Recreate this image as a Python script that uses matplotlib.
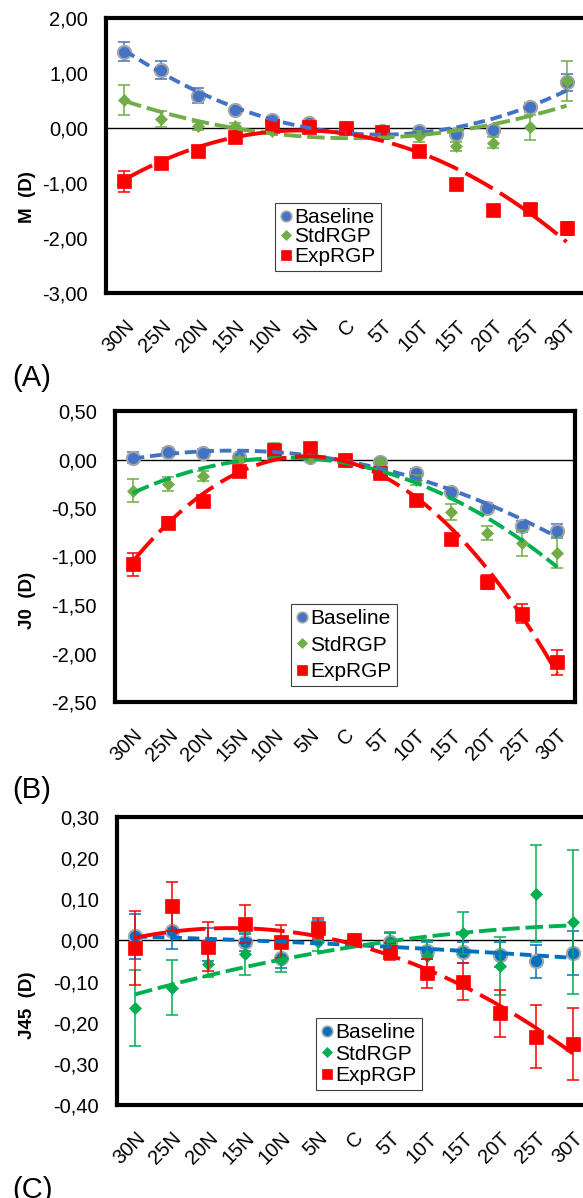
import matplotlib
matplotlib.use("Agg")
import matplotlib.pyplot as plt
from matplotlib.ticker import FuncFormatter
from matplotlib.lines import Line2D
import numpy as np

plt.rcParams['font.family'] = ['Liberation Sans', 'DejaVu Sans']

categories = ['30N', '25N', '20N', '15N', '10N', '5N', 'C', '5T', '10T', '15T', '20T', '25T', '30T']

# (A) M (D)
m_base = [1.39, 1.06, 0.59, 0.33, 0.15, 0.09, 0.00, -0.05, -0.06, -0.11, -0.03, 0.38, 0.83]
m_base_err = [0.17, 0.16, 0.14, 0.06, 0.05, 0.04, 0.03, 0.04, 0.05, 0.06, 0.06, 0.08, 0.15]
m_std = [0.51, 0.16, 0.04, 0.04, -0.05, 0.05, 0.00, -0.07, -0.15, -0.33, -0.27, 0.01, 0.86]
m_std_err = [0.27, 0.15, 0.07, 0.05, 0.05, 0.04, 0.03, 0.05, 0.10, 0.08, 0.10, 0.23, 0.36]
m_exp = [-0.97, -0.64, -0.41, -0.16, 0.04, 0.02, 0.00, -0.07, -0.42, -1.02, -1.49, -1.47, -1.82]
m_exp_err = [0.19, 0.08, 0.06, 0.05, 0.04, 0.04, 0.03, 0.05, 0.06, 0.06, 0.08, 0.08, 0.12]

# (B) J0 (D)
j0_base = [0.02, 0.08, 0.07, 0.03, 0.07, 0.03, 0.00, -0.03, -0.14, -0.33, -0.50, -0.69, -0.74]
j0_base_err = [0.06, 0.04, 0.04, 0.03, 0.03, 0.03, 0.02, 0.03, 0.04, 0.04, 0.05, 0.06, 0.07]
j0_std = [-0.32, -0.25, -0.17, 0.00, 0.12, 0.02, 0.00, -0.03, -0.21, -0.54, -0.76, -0.86, -0.96]
j0_std_err = [0.12, 0.07, 0.05, 0.03, 0.05, 0.03, 0.02, 0.04, 0.05, 0.08, 0.07, 0.13, 0.16]
j0_exp = [-1.08, -0.65, -0.43, -0.12, 0.10, 0.12, 0.00, -0.14, -0.42, -0.82, -1.26, -1.59, -2.09]
j0_exp_err = [0.12, 0.06, 0.04, 0.04, 0.04, 0.04, 0.03, 0.04, 0.04, 0.05, 0.07, 0.10, 0.13]

# (C) J45 (D)
j45_base = [0.010, 0.024, -0.010, -0.005, -0.042, 0.025, 0.000, -0.003, -0.025, -0.029, -0.035, -0.051, -0.031]
j45_base_err = [0.054, 0.045, 0.040, 0.020, 0.025, 0.025, 0.010, 0.020, 0.020, 0.025, 0.030, 0.040, 0.053]
j45_std = [-0.165, -0.115, -0.058, -0.033, -0.047, -0.005, 0.000, -0.010, -0.039, 0.018, -0.062, 0.113, 0.044]
j45_std_err = [0.092, 0.067, 0.030, 0.050, 0.030, 0.020, 0.010, 0.030, 0.040, 0.050, 0.070, 0.118, 0.175]
j45_exp = [-0.019, 0.083, -0.015, 0.040, -0.003, 0.030, 0.000, -0.027, -0.080, -0.101, -0.177, -0.234, -0.252]
j45_exp_err = [0.090, 0.060, 0.060, 0.047, 0.040, 0.025, 0.010, 0.020, 0.035, 0.045, 0.057, 0.077, 0.088]

H = 1198.0
W = 583.0
panels = [
    dict(label='(A)', ylabel='M  (D)', ylim=(-3.0, 2.0), step=1.0,
         pos=[106 / W, 1 - 293 / H, 479 / W, 275 / H],
         series=[(m_base, m_base_err), (m_std, m_std_err), (m_exp, m_exp_err)],
         colors=['#4472C4', '#70AD47', '#FF0000'], line_colors=['#4472C4', '#70AD47', '#FF0000'],
         legend_box=(272 / W, 1 - 272 / H, 112 / W, 70 / H), labelspacing=0.02,
         letter_y=1 - 378 / H, ylabel_y=1 - 197 / H),
    dict(label='(B)', ylabel='J0  (D)', ylim=(-2.5, 0.5), step=0.5,
         pos=[115 / W, 1 - 702 / H, 460 / W, 291 / H],
         series=[(j0_base, j0_base_err), (j0_std, j0_std_err), (j0_exp, j0_exp_err)],
         colors=['#4472C4', '#70AD47', '#FF0000'], line_colors=['#4472C4', '#00B050', '#FF0000'],
         legend_box=(277 / W, 1 - 689 / H, 134 / W, 88 / H), labelspacing=0.35,
         letter_y=1 - 790 / H, ylabel_y=1 - 600 / H),
    dict(label='(C)', ylabel='J45  (D)', ylim=(-0.4, 0.3), step=0.1,
         pos=[117 / W, 1 - 1105 / H, 474 / W, 288 / H],
         series=[(j45_base, j45_base_err), (j45_std, j45_std_err), (j45_exp, j45_exp_err)],
         colors=['#0070C0', '#00B050', '#FF0000'], line_colors=['#0070C0', '#00B050', '#FF0000'],
         legend_box=(305 / W, 1 - 1092 / H, 128 / W, 76 / H), labelspacing=0.12,
         letter_y=1 - 1190 / H, ylabel_y=1 - 1005 / H),
]

names = ['Baseline', 'StdRGP', 'ExpRGP']
markers = ['o', 'D', 's']
msizes = [9.5, 6.0, 9.5]
dash_styles = [(3, 1.5), (4.5, 1.5), (8, 2.2)]

fig = plt.figure(figsize=(5.83, 11.98), dpi=100)
x = np.arange(len(categories))
comma = FuncFormatter(lambda v, p: f"{round(v, 6) + 0.0:.2f}".replace('.', ','))

for p in panels:
    ax = fig.add_axes(p['pos'])
    ax.axhline(0, color='black', lw=1.0, zorder=1)
    for i, (vals, errs) in enumerate(p['series']):
        c = p['colors'][i]
        ax.errorbar(x, vals, yerr=errs, fmt='none', ecolor=c, elinewidth=1.1,
                    capsize=4, capthick=1.1, zorder=2 + i)
        ax.plot(x, vals, linestyle='none', marker=markers[i], ms=msizes[i],
                mfc=c, mec='#A5A5A5' if i == 0 else c, mew=1.5 if i == 0 else 0.5,
                zorder=2 + i)
    # polynomial (order 2) trend line over each series
    for i, (vals, errs) in enumerate(p['series']):
        coef = np.polyfit(x, vals, 2)
        xf = np.linspace(0, 12, 120)
        ln, = ax.plot(xf, np.polyval(coef, xf), color=p['line_colors'][i], lw=2.8,
                      solid_capstyle='butt', zorder=6 + i)
        ln.set_dashes(dash_styles[i])
    ax.set_xlim(-0.5, 12.5)
    ax.set_ylim(*p['ylim'])
    ax.set_yticks(np.arange(p['ylim'][0], p['ylim'][1] + p['step'] / 2, p['step']))
    ax.yaxis.set_major_formatter(comma)
    ax.set_xticks(x)
    ax.set_xticklabels(categories, rotation=45, ha='right', rotation_mode='anchor')
    ax.tick_params(axis='both', length=0, labelsize=14.5)
    ax.tick_params(axis='y', pad=13)
    ax.tick_params(axis='x', pad=17)
    for s in ax.spines.values():
        s.set_linewidth(3.0)
        s.set_color('black')
    fig.text(28 / W, p['ylabel_y'], p['ylabel'], rotation=90,
             fontsize=13.5, fontweight='bold', ha='center', va='center')
    fig.text(12 / W, p['letter_y'], p['label'], fontsize=21, ha='left', va='center')
    handles = [Line2D([], [], linestyle='none', marker=markers[i], ms=msizes[i] * 0.8,
                      mfc=p['colors'][i], mec='#A5A5A5' if i == 0 else p['colors'][i],
                      mew=1.2 if i == 0 else 0.5) for i in range(3)]
    leg = ax.legend(handles, names, loc='center', bbox_to_anchor=p['legend_box'],
                    bbox_transform=fig.transFigure, fontsize=15, frameon=True,
                    fancybox=False, edgecolor='#404040', framealpha=1,
                    handlelength=0.5, handletextpad=0.15, labelspacing=p['labelspacing'],
                    borderpad=0.25, borderaxespad=0)
    leg.get_frame().set_linewidth(0.8)

fig.savefig('out.png', dpi=100)
